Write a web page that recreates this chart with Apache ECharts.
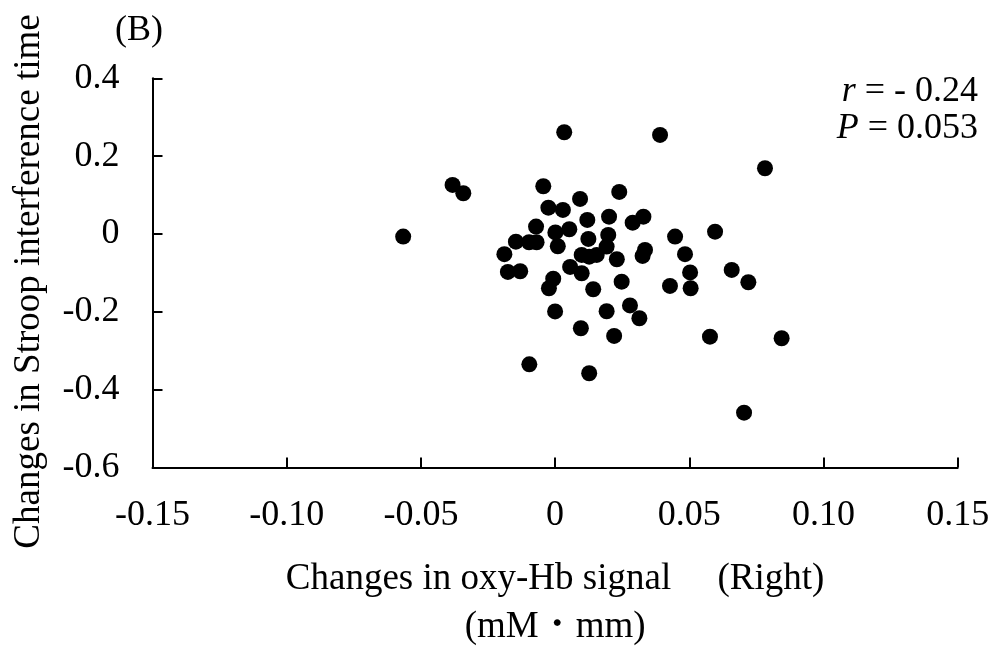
<!DOCTYPE html>
<html><head><meta charset="utf-8">
<script src="https://cdn.jsdelivr.net/npm/echarts@6/dist/echarts.min.js"></script>
<style>html,body{margin:0;padding:0;background:#fff}#c{width:996px;height:646px}</style>
</head><body><div id="c"></div>
<script>
const oxyHb = [-0.0566,-0.0382,-0.0342,-0.0044,-0.0025,0.0029,-0.0071,-0.0146,-0.0097,-0.0069,
  -0.0189,-0.0176,-0.0130,0.0001,0.0053,0.0010,-0.0007,-0.0023,0.0000,0.0056,
  0.0034,0.0391,0.0239,0.0093,0.0120,0.0201,0.0289,0.0329,0.0124,0.0198,
  0.0192,0.0099,0.0127,0.0155,0.0447,0.0484,0.0335,0.0326,0.0230,0.0099,
  0.0503,0.0248,0.0142,0.0428,0.0505,0.0192,0.0279,0.0314,0.0096,0.0220,
  0.0596,0.0658,0.0720,0.0577,0.0844,-0.0096,0.0127,0.0704,0.0782];
const stroop = [-0.0069,0.126,0.1046,0.1226,0.0674,0.0617,0.0188,-0.0198,-0.0213,-0.0213,
  -0.0519,-0.0977,-0.0959,0.0039,0.0121,-0.0316,-0.1152,-0.1396,-0.1992,-0.0848,
  0.2614,0.2545,0.108,0.09,0.036,0.0445,0.029,0.0445,-0.0129,-0.0026,
  -0.0326,-0.054,-0.0584,-0.054,-0.0069,-0.0519,-0.0411,-0.0566,-0.065,-0.101,
  -0.099,-0.1226,-0.1422,-0.1337,-0.1396,-0.1987,-0.1838,-0.2167,-0.2424,-0.2622,
  0.0059,-0.0925,-0.1242,-0.264,-0.2681,-0.335,-0.358,-0.4594,0.1689];
const xTickLabels = ['-0.15','-0.10','-0.05','0','0.05','0.10','0.15'];
const yTickLabels = ['-0.6','-0.4','-0.2','0','0.2','0.4'];
const xTitle = 'Changes in oxy-Hb signal\u3000 (Right)\n(mM\u30FBmm)';
const yTitle = 'Changes in Stroop interference time';
const statR = '- 0.24';
const statP = '0.053';
const panelLabel = '(B)';

const FONT = "'Liberation Serif','Times New Roman','Noto Serif CJK JP','Noto Sans CJK JP',serif";
const xMin = -0.15, xMax = 0.15, xInt = 0.05;
const yMin = -0.6, yMax = 0.4, yInt = 0.2;
const points = oxyHb.map((v, i) => [v, stroop[i]]);

const chart = echarts.init(document.getElementById('c'), null, {renderer: 'canvas'});
const axisLine = {show: true, onZero: false, lineStyle: {color: '#000', width: 2}};
const axisTick = {show: true, inside: true, length: 10, lineStyle: {color: '#000', width: 2}};
chart.setOption({
  animation: false,
  backgroundColor: '#fff',
  grid: {left: 152.5, right: 38.3, top: 78.3, bottom: 178.6, containLabel: false, outerBoundsMode: 'none'},
  xAxis: {
    type: 'value', min: xMin, max: xMax, interval: xInt,
    axisLine, axisTick, splitLine: {show: false},
    axisLabel: {
      margin: 30, color: '#000', fontFamily: FONT, fontSize: 36,
      formatter: (v) => xTickLabels[Math.round((v - xMin) / xInt)]
    },
    name: xTitle, nameLocation: 'middle', nameGap: 88,
    nameTextStyle: {color: '#000', fontFamily: FONT, fontSize: 37, lineHeight: 48, align: 'center'}
  },
  yAxis: {
    type: 'value', min: yMin, max: yMax, interval: yInt,
    axisLine, axisTick, splitLine: {show: false},
    axisLabel: {
      margin: 33, color: '#000', fontFamily: FONT, fontSize: 36,
      formatter: (v) => yTickLabels[Math.round((v - yMin) / yInt)]
    }
  },
  series: [{
    type: 'scatter', data: points, symbol: 'circle', symbolSize: 16,
    itemStyle: {color: '#000', opacity: 1}
  }],
  graphic: [
    {type: 'text', x: 29, y: 281.5, rotation: Math.PI / 2, style: {
      text: yTitle, align: 'center', verticalAlign: 'middle', fill: '#000',
      fontFamily: FONT, fontSize: 37
    }},
    {type: 'text', left: 115, top: 13, style: {text: panelLabel, fill: '#000', font: '36px ' + FONT}},
    {type: 'text', x: 978, y: 92, style: {
      text: '{i|r} = ' + statR, align: 'right', verticalAlign: 'middle', fill: '#000',
      fontFamily: FONT, fontSize: 36,
      rich: {i: {fontStyle: 'italic', fontFamily: FONT, fontSize: 36, fill: '#000'}}
    }},
    {type: 'text', x: 978, y: 129, style: {
      text: '{i|P} = ' + statP, align: 'right', verticalAlign: 'middle', fill: '#000',
      fontFamily: FONT, fontSize: 36,
      rich: {i: {fontStyle: 'italic', fontFamily: FONT, fontSize: 36, fill: '#000'}}
    }}
  ]
});
</script></body></html>
